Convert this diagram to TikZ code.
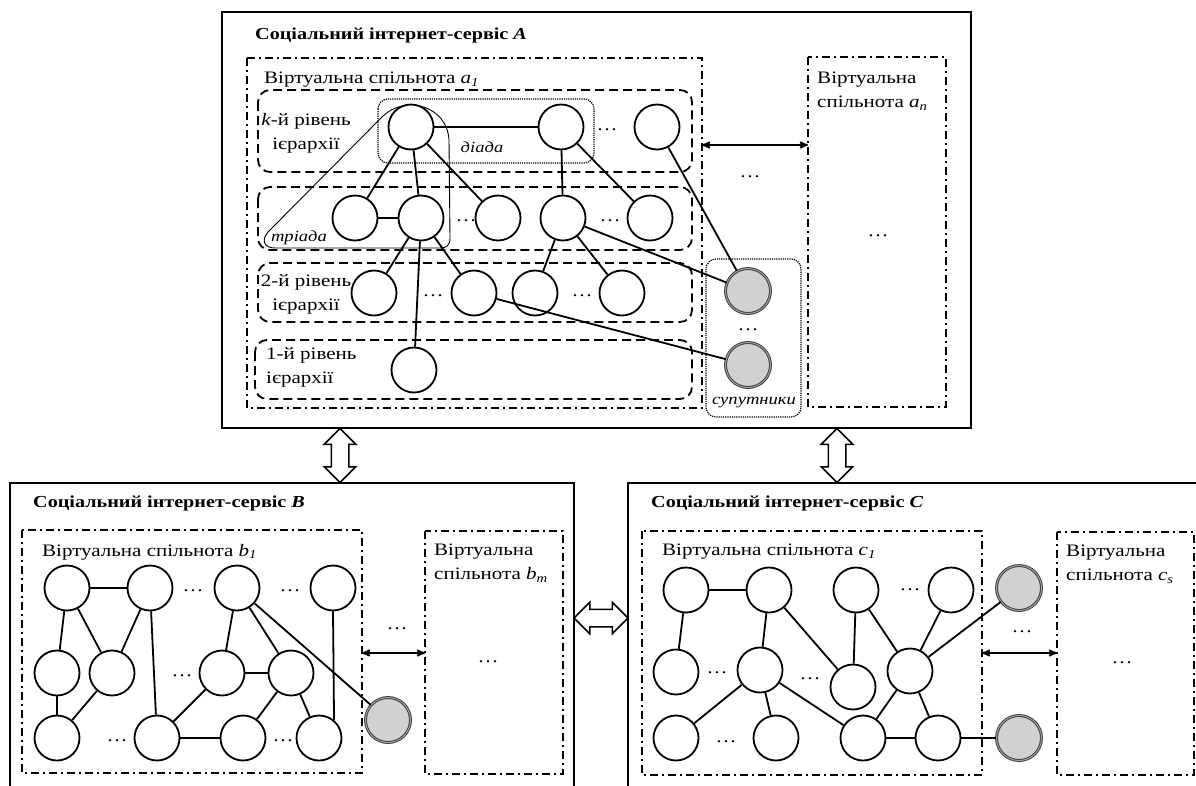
\documentclass[tikz,border=0pt]{standalone}
\usepackage{fontspec}
\setmainfont{Liberation Serif}[FakeStretch=1.2]
\usetikzlibrary{arrows,automata,shapes.arrows,calc}

\begin{document}
\begin{tikzpicture}[x=1pt,y=-1pt,>=stealth',line width=1.8pt,
                    font=\fontsize{17.5}{24}\selectfont]
  \tikzstyle{every state}=[draw,circle,minimum size=45pt,inner sep=0pt,line width=1.8pt,fill=white]
  \tikzstyle{sat}=[state,fill=black!18,draw=black!75,double=black!35,double distance=0.9pt,line width=1pt]
  \tikzstyle{service}=[line width=2.2pt]
  \tikzstyle{title}=[anchor=west,font=\fontsize{16.8}{24}\selectfont\bfseries]
  \tikzstyle{community}=[line width=1.6pt,dash pattern=on 8pt off 4pt on 2pt off 4pt]
  \tikzstyle{tier}=[line width=1.8pt,dash pattern=on 9pt off 5pt,rounded corners=12pt]
  \tikzstyle{pairbox}=[line width=1.2pt,densely dotted,rounded corners=10pt]
  \tikzstyle{grouplabel}=[font=\fontsize{15.5}{20}\selectfont\itshape,inner sep=1pt]
  \tikzstyle{hollow}=[draw,double arrow,line width=1.5pt,minimum height=54pt,inner sep=8pt,
                      double arrow head extend=7pt,fill=white]
  \tikzstyle{link}=[<->,line width=1.8pt]

  \useasboundingbox (0,0) rectangle (1196,785);
  \clip (0,0) rectangle (1196,785);

  % service A
  \draw[service] (222,12) rectangle (971,428);
  \node[title] (titleA) at (251,35) {Соціальний інтернет-сервіс \textit{A}};
  \draw[community] (247,58) rectangle (702,408);
  \node[anchor=west] (commA1) at (260,80) {Віртуальна спільнота \textit{a}\textsubscript{\textit{1}}};
  \draw[tier] (258,90) rectangle (692,172);
  \draw[tier] (258,187) rectangle (692,250);
  \draw[tier] (258,263) rectangle (692,322);
  \draw[tier] (255,340) rectangle (692,399);
  \node[align=center] (tierK) at (306,133) {\textit{k}-й рівень\\ієрархії};
  \node[align=center] (tier2) at (306,294) {2-й рівень\\ієрархії};
  \node[align=left,anchor=west] (tier1) at (262,367) {1-й рівень\\ієрархії};

  \draw[pairbox] (378,99) rectangle (594,163);
  \node[grouplabel] (diada) at (482,147) {діада};
  \draw[line width=0.9pt] (268,232) -- (383,116) .. controls (405,95) and (447,105) .. (449,140)
        -- (450,238) .. controls (450,246) and (446,248) .. (440,248)
        -- (275,248) .. controls (264,248) and (261,240) .. (268,232) -- cycle;
  \node[grouplabel] (triada) at (299,238) {тріада};

  \node[state] (k1) at (411,127) {};
  \node[state] (k2) at (561,127) {};
  \node[state] (k3) at (657,127) {};
  \node (kdots) at (607,130) {\ldots};
  \node[state] (m1) at (355,218) {};
  \node[state] (m2) at (421,218) {};
  \node[state] (m3) at (498,218) {};
  \node[state] (m4) at (563,218) {};
  \node[state] (m5) at (650,218) {};
  \node (mdots1) at (466,221) {\ldots};
  \node (mdots2) at (610,221) {\ldots};
  \node[state] (n1) at (374,293) {};
  \node[state] (n2) at (474,293) {};
  \node[state] (n3) at (535,293) {};
  \node[state] (n4) at (622,293) {};
  \node (ndots1) at (433,296) {\ldots};
  \node (ndots2) at (582,296) {\ldots};
  \node[state] (p1) at (414,370) {};

  % satellites
  \draw[pairbox] (706,259) rectangle (801,417);
  \node[sat] (s1) at (748,291) {};
  \node[sat] (s2) at (748,365) {};
  \node (sdots) at (748,330) {\ldots};
  \node[grouplabel] (satlabel) at (754,403) {супутники};

  \draw[community] (808,57) rectangle (946,407);
  \node[anchor=north west,align=left] (commAn) at (813,68) {Віртуальна\\спільнота \textit{a}\textsubscript{\textit{n}}};
  \node (andots) at (878,236) {\ldots};
  \coordinate (a1east) at (702,145);
  \coordinate (anwest) at (808,145);
  \draw[link] (a1east) -- (anwest);
  \node (adots) at (750,177) {\ldots};

  \path (k1) edge (k2) edge (m1) edge (m2) edge (m3)
        (k2) edge (m4) edge (m5)
        (k3) edge (s1)
        (m1) edge (m2)
        (m2) edge (n1) edge (p1) edge (n2)
        (m4) edge (n3) edge (n4) edge (s1)
        (n2) edge (s2);

  % service B
  \draw[service] (10,483) rectangle (574,800);
  \node[title] (titleB) at (29,503) {Соціальний інтернет-сервіс \textit{B}};
  \draw[community] (22,530) rectangle (362,773);
  \node[anchor=west] (commB1) at (38,552) {Віртуальна спільнота \textit{b}\textsubscript{\textit{1}}};
  \draw[community] (425,531) rectangle (563,774);
  \node[anchor=north west,align=left] (commBm) at (430,540) {Віртуальна\\спільнота \textit{b}\textsubscript{\textit{m}}};
  \node (bmdots) at (488,662) {\ldots};
  \coordinate (b1east) at (362,653);
  \coordinate (bmwest) at (425,653);
  \draw[link] (b1east) -- (bmwest);
  \node (bldots) at (397,629) {\ldots};

  \node[state] (b1) at (67,588) {};
  \node[state] (b2) at (150,588) {};
  \node[state] (b3) at (237,588) {};
  \node[state] (b4) at (333,588) {};
  \node (bdots1) at (193,591) {\ldots};
  \node (bdots2) at (290,591) {\ldots};
  \node[state] (b5) at (57,673) {};
  \node[state] (b6) at (112,673) {};
  \node[state] (b7) at (222,673) {};
  \node[state] (b8) at (291,673) {};
  \node (bdots3) at (182,676) {\ldots};
  \node[state] (b9) at (57,738) {};
  \node[state] (b10) at (157,738) {};
  \node[state] (b11) at (243,738) {};
  \node[state] (b12) at (319,738) {};
  \node (bdots4) at (117,741) {\ldots};
  \node (bdots5) at (283,741) {\ldots};
  \node[sat] (bs) at (388,720) {};

  \path (b1) edge (b2) edge (b5) edge (b6)
        (b2) edge (b6) edge (b10)
        (b5) edge (b9)
        (b6) edge (b9)
        (b3) edge (b7) edge (b8) edge (bs)
        (b7) edge (b8) edge (b10)
        (b8) edge (b11) edge (b12)
        (b10) edge (b11)
        (b4.south) edge (b12.50);

  % service C
  \draw[service] (628,483) rectangle (1220,800);
  \node[title] (titleC) at (647,503) {Соціальний інтернет-сервіс \textit{C}};
  \draw[community] (642,531) rectangle (982,775);
  \node[anchor=west] (commC1) at (658,552) {Віртуальна спільнота \textit{c}\textsubscript{\textit{1}}};
  \draw[community] (1057,532) rectangle (1194,775);
  \node[anchor=north west,align=left] (commCs) at (1062,541) {Віртуальна\\спільнота \textit{c}\textsubscript{\textit{s}}};
  \node (csdots) at (1122,663) {\ldots};
  \coordinate (c1east) at (982,653);
  \coordinate (cswest) at (1057,653);
  \draw[link] (c1east) -- (cswest);
  \node (cldots) at (1022,632) {\ldots};

  \node[state] (c1) at (686,590) {};
  \node[state] (c2) at (769,590) {};
  \node[state] (c3) at (856,590) {};
  \node[state] (c4) at (951,590) {};
  \node (cdots1) at (910,590) {\ldots};
  \node[state] (c5) at (676,672) {};
  \node[state] (c6) at (760,670) {};
  \node[state] (c7) at (853,687) {};
  \node[state] (c8) at (910,671) {};
  \node (cdots2) at (717,673) {\ldots};
  \node (cdots3) at (810,679) {\ldots};
  \node[state] (c9) at (676,738) {};
  \node[state] (c10) at (776,738) {};
  \node[state] (c11) at (863,738) {};
  \node[state] (c12) at (938,738) {};
  \node (cdots4) at (726,742) {\ldots};
  \node[sat] (cs1) at (1019,588) {};
  \node[sat] (cs2) at (1019,738) {};

  \path (c1) edge (c2) edge (c5)
        (c2) edge (c6) edge (c7)
        (c3) edge (c7) edge (c8)
        (c4) edge (c8)
        (c8) edge (cs1) edge (c11) edge (c12)
        (c6) edge (c9) edge (c10) edge (c11)
        (c11) edge (c12)
        (c12) edge (cs2);

  % links between services
  \coordinate (AsouthB) at (340,428);
  \coordinate (BnorthA) at (340,483);
  \coordinate (AsouthC) at (837,428);
  \coordinate (CnorthA) at (837,483);
  \coordinate (BeastC) at (574,618);
  \coordinate (CwestB) at (628,618);
  \node[hollow,rotate=90] (ab) at ($(AsouthB)!.5!(BnorthA)$) {};
  \node[hollow,rotate=90] (ac) at ($(AsouthC)!.5!(CnorthA)$) {};
  \node[hollow] (bc) at ($(BeastC)!.5!(CwestB)$) {};
\end{tikzpicture}
\end{document}
